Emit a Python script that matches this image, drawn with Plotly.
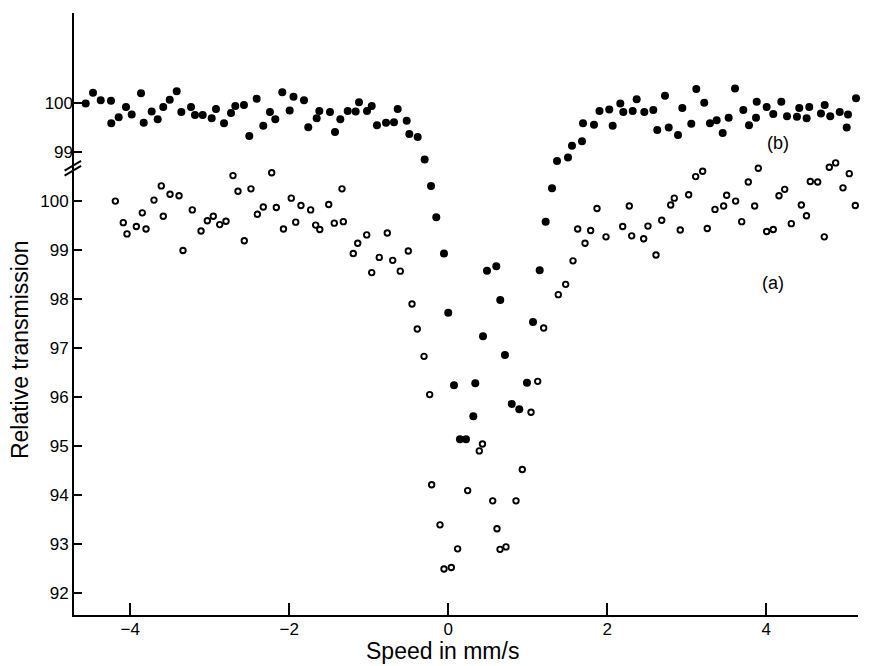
import plotly.graph_objects as go

# Series (a): open circles, lower scale (Relative transmission, %)
speed_a = [-4.187, -4.087, -4.040, -3.923, -3.848, -3.801, -3.701, -3.609, -3.584, -3.499,
           -3.386, -3.336, -3.219, -3.109, -3.030, -2.955, -2.874, -2.795, -2.707, -2.644,
           -2.565, -2.481, -2.401, -2.326, -2.220, -2.162, -2.072, -1.974, -1.918, -1.852,
           -1.730, -1.667, -1.615, -1.503, -1.433, -1.336, -1.319, -1.194, -1.138, -1.025,
           -0.962, -0.867, -0.766, -0.698, -0.603, -0.502, -0.455, -0.389, -0.304, -0.233,
           -0.208, -0.103, -0.053, 0.039, 0.119, 0.245, 0.391, 0.431, 0.560, 0.614,
           0.652, 0.727, 0.853, 0.932, 1.042, 1.126, 1.201, 1.385, 1.478, 1.570,
           1.629, 1.721, 1.792, 1.872, 1.985, 2.195, 2.278, 2.308, 2.459, 2.513,
           2.614, 2.686, 2.799, 2.844, 2.919, 3.025, 3.113, 3.201, 3.259, 3.356,
           3.465, 3.503, 3.616, 3.692, 3.775, 3.855, 3.901, 4.006, 4.089, 4.161,
           4.233, 4.316, 4.442, 4.507, 4.555, 4.648, 4.731, 4.794, 4.874, 4.966,
           5.045, 5.121, 5.218, 5.314, 5.340, 5.419]
trans_a = [100.00, 99.56, 99.33, 99.48, 99.76, 99.43, 100.02, 100.31, 99.69, 100.14,
           100.11, 98.99, 99.82, 99.39, 99.60, 99.69, 99.52, 99.59, 100.52, 100.20,
           99.19, 100.25, 99.73, 99.88, 100.58, 99.87, 99.43, 100.06, 99.57, 99.91,
           99.82, 99.51, 99.42, 99.93, 99.55, 100.25, 99.58, 98.93, 99.14, 99.31,
           98.54, 98.85, 99.35, 98.79, 98.57, 98.98, 97.90, 97.39, 96.83, 96.05,
           94.21, 93.39, 92.49, 92.52, 92.90, 94.09, 94.90, 95.04, 93.88, 93.31,
           92.89, 92.94, 93.88, 94.52, 95.69, 96.32, 97.41, 98.09, 98.30, 98.78,
           99.43, 99.14, 99.40, 99.85, 99.27, 99.48, 99.90, 99.29, 99.23, 99.49,
           98.90, 99.61, 99.92, 100.06, 99.41, 100.13, 100.50, 100.61, 99.44, 99.83,
           99.90, 100.12, 100.00, 99.58, 100.39, 99.90, 100.67, 99.38, 99.42, 100.11,
           100.24, 99.54, 99.92, 99.70, 100.40, 100.39, 99.27, 100.69, 100.78, 100.27,
           100.56, 99.91, 100.14, 100.73, 100.01, 99.68]

# Series (b): filled circles, upper (broken) scale
speed_b = [-4.560, -4.468, -4.371, -4.242, -4.238, -4.145, -4.053, -3.981, -3.864, -3.830,
           -3.730, -3.654, -3.584, -3.503, -3.415, -3.357, -3.235, -3.185, -3.088, -2.975,
           -2.921, -2.820, -2.732, -2.678, -2.569, -2.502, -2.409, -2.326, -2.242, -2.175,
           -2.087, -1.994, -1.946, -1.814, -1.760, -1.654, -1.621, -1.487, -1.424, -1.357,
           -1.264, -1.164, -1.122, -1.021, -0.962, -0.896, -0.782, -0.682, -0.635, -0.522,
           -0.489, -0.384, -0.296, -0.216, -0.150, -0.053, 0.001, 0.073, 0.148, 0.224,
           0.316, 0.341, 0.438, 0.488, 0.605, 0.655, 0.714, 0.799, 0.894, 0.991,
           1.067, 1.151, 1.226, 1.306, 1.369, 1.507, 1.557, 1.683, 1.696, 1.834,
           1.903, 2.026, 2.069, 2.165, 2.203, 2.321, 2.371, 2.467, 2.580, 2.630,
           2.727, 2.774, 2.891, 2.945, 3.058, 3.121, 3.221, 3.293, 3.377, 3.453,
           3.528, 3.608, 3.712, 3.784, 3.872, 3.881, 4.006, 4.089, 4.190, 4.262,
           4.387, 4.416, 4.509, 4.542, 4.689, 4.736, 4.806, 4.925, 5.013, 5.029,
           5.130]
trans_b = [99.99, 100.21, 100.06, 100.05, 99.59, 99.71, 99.92, 99.77, 100.20, 99.60,
           99.83, 99.67, 99.92, 100.07, 100.24, 99.82, 99.92, 99.76, 99.76, 99.69,
           99.88, 99.59, 99.80, 99.94, 99.96, 99.33, 100.09, 99.54, 99.82, 99.67,
           100.22, 99.85, 100.13, 100.06, 99.51, 99.69, 99.84, 99.82, 99.41, 99.67,
           99.84, 99.83, 100.02, 99.84, 99.94, 99.55, 99.60, 99.61, 99.88, 99.64,
           99.37, 99.31, 98.85, 98.31, 97.67, 96.93, 95.72, 94.24, 93.14, 93.14,
           93.61, 94.28, 95.24, 96.58, 96.67, 95.98, 94.86, 93.86, 93.75, 94.29,
           95.53, 96.59, 97.58, 98.26, 98.82, 98.89, 99.13, 99.22, 99.59, 99.56,
           99.84, 99.87, 99.54, 99.99, 99.82, 99.84, 100.08, 99.82, 99.86, 99.45,
           100.15, 99.50, 99.35, 99.90, 99.58, 100.29, 100.01, 99.59, 99.65, 99.39,
           99.70, 100.30, 99.86, 99.55, 99.70, 100.03, 99.92, 99.78, 100.03, 99.73,
           99.72, 99.90, 99.69, 99.92, 99.79, 99.96, 99.73, 99.82, 99.50, 99.77,
           100.10]

x_ticks = [-4, -2, 0, 2, 4]
x_tick_text = ["\u22124", "\u22122", "0", "2", "4"]
y_ticks_a = [92, 93, 94, 95, 96, 97, 98, 99, 100]
y_ticks_b = [99, 100]

FONT = "Liberation Sans, Arial, Helvetica, sans-serif"

fig = go.Figure()
fig.add_trace(go.Scatter(
    x=speed_a, y=trans_a, mode="markers", yaxis="y", name="(a)",
    marker=dict(symbol="circle-open", size=5.5, color="black", line=dict(width=1.9, color="black")),
    cliponaxis=False, showlegend=False))
fig.add_trace(go.Scatter(
    x=speed_b, y=trans_b, mode="markers", yaxis="y2", name="(b)",
    marker=dict(symbol="circle", size=8, color="black"),
    cliponaxis=False, showlegend=False))

fig.update_layout(
    width=871, height=658,
    margin=dict(l=66, r=21, t=5, b=51),
    paper_bgcolor="white", plot_bgcolor="white",
    font=dict(family=FONT, color="black", size=17),
    xaxis=dict(range=[-4.707, 5.155], tickvals=x_ticks, ticktext=x_tick_text,
               showline=True, linewidth=2, linecolor="black", ticks="inside", ticklen=12,
               tickwidth=2, tickcolor="black", showgrid=False, zeroline=False,
               ticklabelstandoff=-2, tickfont=dict(size=17, family=FONT)),
    yaxis=dict(range=[91.55, 103.84], tickvals=y_ticks_a, showline=True, linewidth=2,
               linecolor="black", ticks="inside", ticklen=8, tickwidth=2, tickcolor="black",
               showgrid=False, zeroline=False, tickfont=dict(size=17, family=FONT)),
    yaxis2=dict(range=[89.55, 101.84], tickvals=y_ticks_b, overlaying="y", side="left",
                anchor="x", showline=False, ticks="inside", ticklen=8, tickwidth=2,
                tickcolor="black", showgrid=False, zeroline=False,
                tickfont=dict(size=17, family=FONT)),
)

# axis titles
fig.add_annotation(text="Speed in mm/s", xref="paper", yref="paper", x=0.47, y=0,
                   yshift=-36, showarrow=False, xanchor="center", yanchor="middle",
                   font=dict(size=23, family=FONT))
fig.add_annotation(text="Relative transmission", xref="paper", yref="paper", x=0, y=0.44,
                   xshift=-54, textangle=-90, showarrow=False, xanchor="center",
                   yanchor="middle", font=dict(size=23, family=FONT))
# curve labels
fig.add_annotation(text="(b)", xref="x", yref="y2", x=4.15, y=99.18, showarrow=False,
                   font=dict(size=18, family=FONT))
fig.add_annotation(text="(a)", xref="x", yref="y", x=4.085, y=98.33, showarrow=False,
                   font=dict(size=18, family=FONT))

# axis break marks (//)
for dy in (0.0, 0.1):
    fig.add_shape(type="line", xref="paper", yref="y",
                  x0=-0.012, x1=0.009, y0=100.52 + dy, y1=100.72 + dy,
                  line=dict(color="black", width=2))

fig.write_html("out.html")
